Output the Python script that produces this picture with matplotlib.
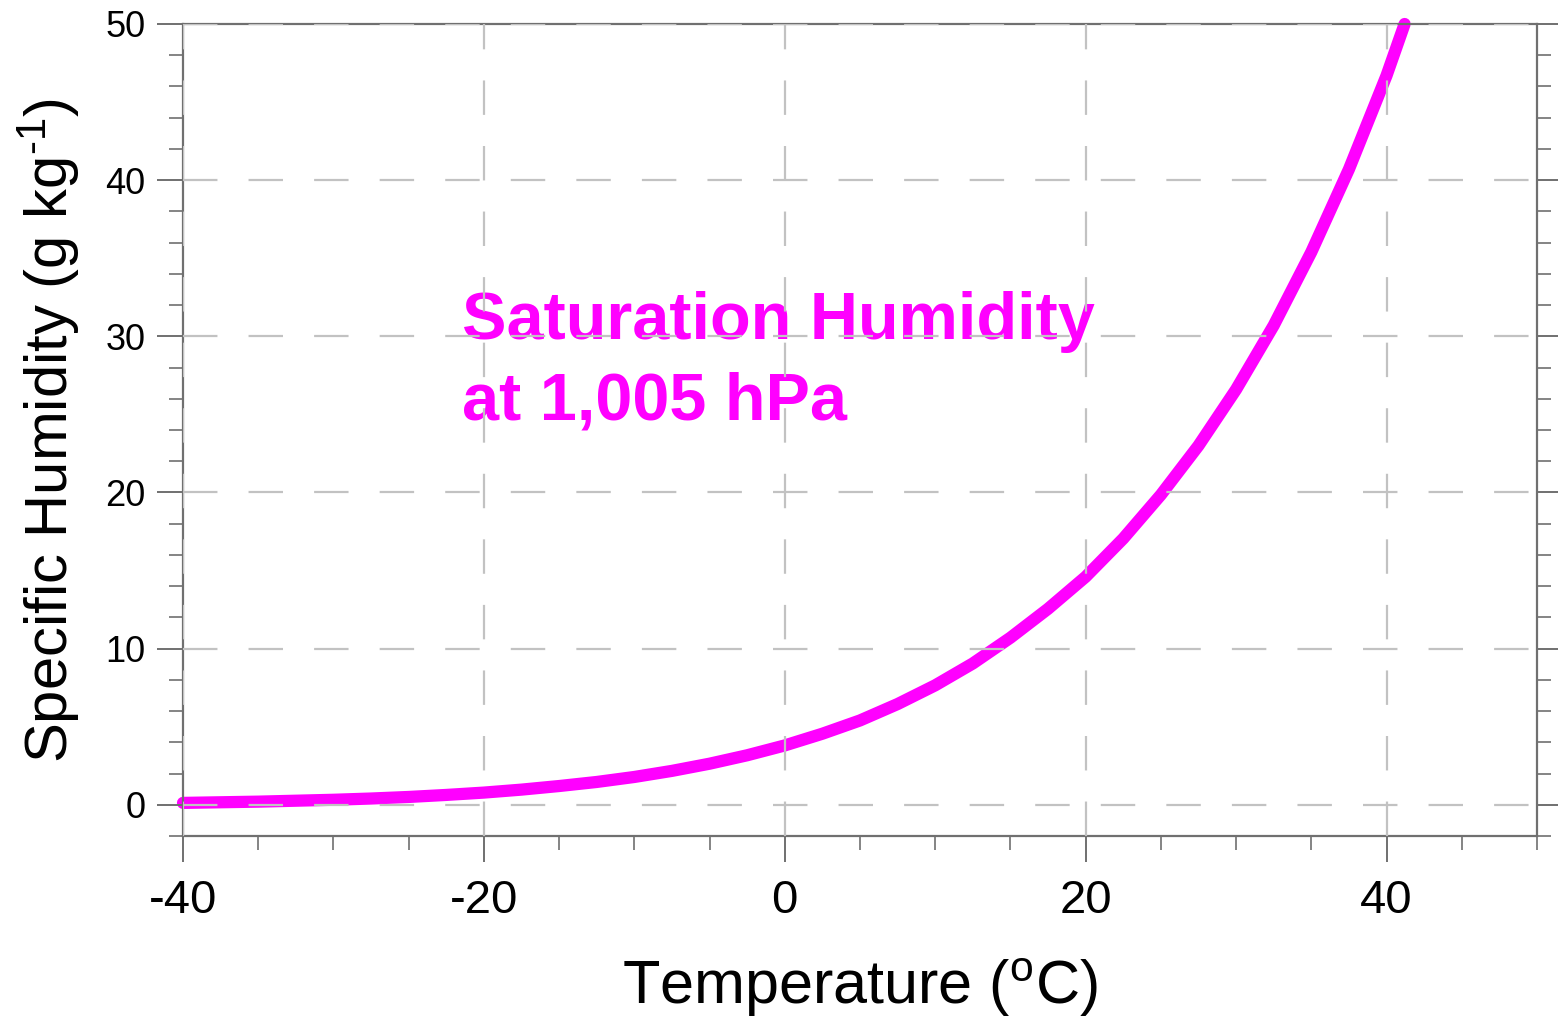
import numpy as np
import matplotlib as mpl
mpl.use("agg")
import matplotlib.pyplot as plt
from matplotlib.ticker import MultipleLocator

plt.rcParams['font.family'] = ['Liberation Sans', 'DejaVu Sans']
plt.rcParams['mathtext.fontset'] = 'custom'
plt.rcParams['mathtext.rm'] = 'Liberation Sans'
plt.rcParams['mathtext.it'] = 'Liberation Sans'
plt.rcParams['axes.unicode_minus'] = False

# values
temp = [-40, -37.5, -35, -32.5, -30, -27.5, -25, -22.5, -20, -17.5, -15, -12.5,
        -10, -7.5, -5, -2.5, 0, 2.5, 5, 7.5, 10, 12.5, 15, 17.5, 20,
        22.5, 25, 27.5, 30, 32.5, 35, 37.5, 40, 41.2]
qsat = [0.12, 0.16, 0.2, 0.26, 0.32, 0.4, 0.5, 0.63, 0.78, 0.97, 1.2, 1.46,
        1.78, 2.17, 2.63, 3.17, 3.8, 4.55, 5.4, 6.45, 7.65, 9.05, 10.7, 12.55, 14.6,
        17.05, 19.85, 23.0, 26.6, 30.7, 35.4, 40.7, 46.7, 50.0]

xticks = [-40, -20, 0, 20, 40]
yticks = [0, 10, 20, 30, 40, 50]

spine_col = '#707070'
grid_col = '#c2c2c2'

fig = plt.figure(figsize=(15.58, 10.19), dpi=100)
ax = fig.add_axes([183/1558, 1-836/1019, (1537-183)/1558, (836-24)/1019])

ax.plot(temp, qsat, color='#ff00ff', lw=8.8, solid_capstyle='round',
        solid_joinstyle='round', zorder=2, clip_on=False)

ax.set_xlim(-40, 50)
ax.set_ylim(-2, 50)
ax.set_xticks(xticks)
ax.set_yticks(yticks)
ax.xaxis.set_minor_locator(MultipleLocator(5))
ax.yaxis.set_minor_locator(MultipleLocator(2))

ax.set_axisbelow(False)
ax.grid(True, which='major', color=grid_col, ls=(0, (15.5, 14)), lw=1.6)

for s in ax.spines.values():
    s.set_color(spine_col)
    s.set_linewidth(1.6)

ax.tick_params(axis='x', which='major', direction='out', length=19, width=1.4,
               color=spine_col, labelsize=34, pad=12, top=False)
ax.tick_params(axis='x', which='minor', direction='out', length=10, width=1.2,
               color=spine_col, top=False)
ax.tick_params(axis='y', which='major', direction='out', length=19, width=1.4,
               color=spine_col, labelsize=26, pad=8, right=True)
ax.tick_params(axis='y', which='minor', direction='out', length=10, width=1.2,
               color=spine_col, right=True)

ax.set_xlabel(r'Temperature ($^\mathrm{o}$C)', fontsize=44, labelpad=24)
ax.set_ylabel(r'Specific Humidity (g kg$^{\text{-1}}$)', fontsize=43, labelpad=17)

ax.text(-21.45, 24.7, 'Saturation Humidity\nat 1,005 hPa', color='#ff00ff',
        fontsize=48, fontweight='bold', ha='left', va='baseline',
        linespacing=1.37, zorder=2)

plt.savefig('out.png', dpi=100)
